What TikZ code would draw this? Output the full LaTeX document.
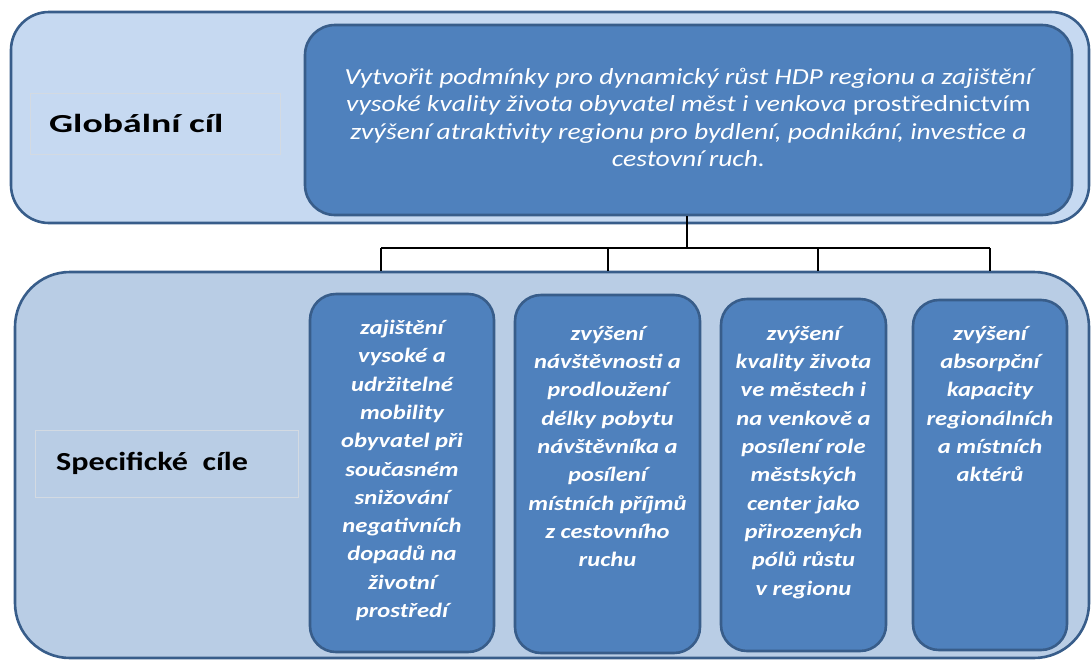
\documentclass[tikz,border=0pt]{standalone}
\usepackage{graphicx}
\usepackage{fontspec}
\setmainfont{Carlito}[FakeStretch=1.2]
\definecolor{panelA}{HTML}{C6D9F1}
\definecolor{panelB}{HTML}{B9CDE5}
\definecolor{edge}{HTML}{385D8A}
\definecolor{boxfill}{HTML}{4F81BD}
\definecolor{lbledge}{HTML}{D3DAE2}
\newcommand{\lblstretch}[2]{\scalebox{#1}[1]{#2}}
\begin{document}
\begin{tikzpicture}[x=1pt,y=-1pt,
  panel/.style={draw=edge, line width=2.6pt, rounded corners=#1, inner sep=0pt},
  goalbox/.style={draw=edge, fill=boxfill, line width=2.6pt, inner sep=0pt},
  lbl/.style={draw=lbledge, line width=0.8pt, inner sep=0pt, text=black},
  lbltext/.style={font=\fontsize{26}{30}\selectfont\bfseries, text=black, anchor=west, inner sep=0pt},
  goaltext/.style={font=\fontsize{20.5}{28.3}\selectfont\bfseries\itshape, text=white, align=center, anchor=north, inner sep=0pt},
  conn/.style={draw=black, line width=2pt}]
\useasboundingbox (0,0) rectangle (1092,659);
\clip (0,0) rectangle (1092,659);
% top panel
\node[panel=38pt, fill=panelA, minimum width=1078pt, minimum height=211pt] (toppanel) at (550,117.5) {};
\node[goalbox, rounded corners=30pt, minimum width=767pt, minimum height=190pt] (topbox) at (688.5,120) {};
\node[font=\fontsize{23}{27.5}\selectfont\itshape, text=white, align=center, inner sep=0pt] (toptext) at (688.5,117.5)
 {Vytvořit podmínky pro dynamický růst HDP regionu a zajištění\\
  vysoké kvality života obyvatel měst i venkova {\upshape prostřednictvím}\\
  zvýšení atraktivity regionu pro bydlení, podnikání, investice a\\
  cestovní ruch.};
\node[lbl, fill=panelA, minimum width=250pt, minimum height=61pt] (globbox) at (155,123.5) {};
\node[lbltext] (globtext) at (49,123.5) {\lblstretch{1.21}{Globální cíl}};
% bottom panel
\node[panel=55pt, fill=panelB, minimum width=1074pt, minimum height=386pt] (botpanel) at (552,465) {};
\node[lbl, fill=panelB, minimum width=263pt, minimum height=67pt] (specbox) at (166.5,463.5) {};
\node[lbltext] (spectext) at (56,463.5) {\lblstretch{1.03}{Specifické\ \ cíle}};
% specific goal boxes
\node[goalbox, rounded corners=26pt, minimum width=184pt, minimum height=358pt] (g1) at (402,473) {};
\node[goalbox, rounded corners=26pt, minimum width=185pt, minimum height=358pt] (g2) at (607.5,474) {};
\node[goalbox, rounded corners=26pt, minimum width=165pt, minimum height=352pt] (g3) at (803.5,475) {};
\node[goalbox, rounded corners=26pt, minimum width=154pt, minimum height=350pt] (g4) at (990,475) {};
\node[goaltext] (t1) at (402,320) {zajištění\\vysoké a\\udržitelné\\mobility\\obyvatel při\\současném\\snižování\\negativních\\dopadů na\\životní\\prostředí};
\node[goaltext] (t2) at (607.5,326) {zvýšení\\návštěvnosti a\\prodloužení\\délky pobytu\\návštěvníka a\\posílení\\místních příjmů\\z cestovního\\ruchu};
\node[goaltext] (t3) at (803.5,326) {zvýšení\\kvality života\\ve městech i\\na venkově a\\posílení role\\městských\\center jako\\přirozených\\pólů růstu\\v regionu};
\node[goaltext] (t4) at (990,326) {zvýšení\\absorpční\\kapacity\\regionálních\\a místních\\aktérů};
% connectors
\coordinate (hub) at (687,248);
\coordinate (d1) at (381,248);
\coordinate (d2) at (608,248);
\coordinate (d3) at (818,248);
\coordinate (d4) at (990,248);
\draw[conn] (topbox.south -| hub) -- (hub);
\draw[conn] (d1) -- (d4);
\draw[conn] (d1) -- (d1 |- botpanel.north);
\draw[conn] (d2) -- (d2 |- botpanel.north);
\draw[conn] (d3) -- (d3 |- botpanel.north);
\draw[conn] (d4) -- (d4 |- botpanel.north);
\end{tikzpicture}
\end{document}
